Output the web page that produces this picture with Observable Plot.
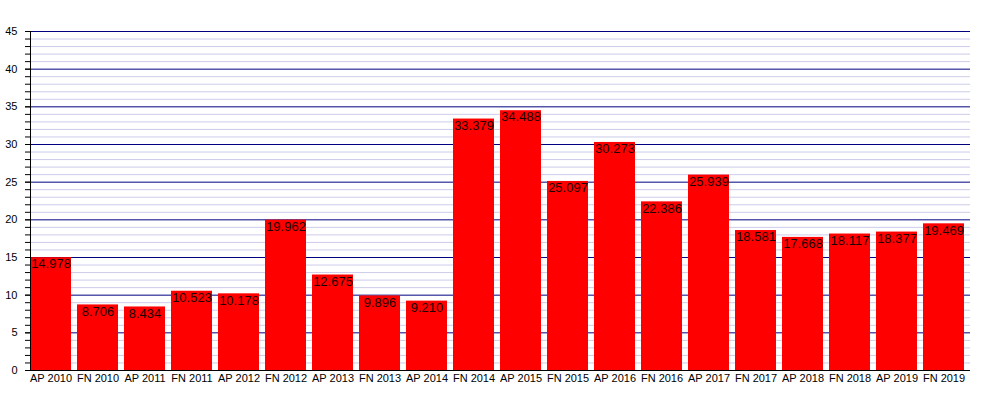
<!DOCTYPE html>
<html>
<head>
<meta charset="utf-8">
<script src="https://cdn.jsdelivr.net/npm/d3@7"></script>
<script src="https://cdn.jsdelivr.net/npm/@observablehq/plot@0.6"></script>
<style>
  body { margin: 0; background: #fff; }
</style>
</head>
<body>
<div id="chart"></div>
<script>
const categories = ["AP 2010","FN 2010","AP 2011","FN 2011","AP 2012","FN 2012","AP 2013","FN 2013","AP 2014","FN 2014","AP 2015","FN 2015","AP 2016","FN 2016","AP 2017","FN 2017","AP 2018","FN 2018","AP 2019","FN 2019"];
const values = [14.978, 8.706, 8.434, 10.523, 10.178, 19.962, 12.675, 9.896, 9.210, 33.379, 34.488, 25.097, 30.273, 22.386, 25.939, 18.581, 17.668, 18.117, 18.377, 19.469];
const majorTicks = [0, 5, 10, 15, 20, 25, 30, 35, 40, 45];
const minorTicks = d3.range(0, 46);

const data = categories.map((c, i) => ({cat: c, val: values[i]}));

const chart = Plot.plot({
  width: 1000,
  height: 400,
  marginLeft: 30,
  marginRight: 30,
  marginTop: 31,
  marginBottom: 30,
  style: {fontFamily: "'Liberation Sans', Arial, sans-serif", fontSize: "11px", background: "#fff", color: "#000"},
  x: {domain: categories, paddingInner: 6/47, paddingOuter: 3/47, align: 0, label: null},
  y: {domain: [0, 45], label: null},
  marks: [
    Plot.ruleY(minorTicks.filter(d => d % 5 !== 0), {stroke: "#ccccea", strokeWidth: 1}),
    Plot.ruleY(majorTicks.filter(d => d > 0), {stroke: "#000080", strokeWidth: 1}),
    Plot.barY(data, {x: "cat", y: "val", fill: "#ff0000"}),
    Plot.text(data, {x: "cat", y: "val", text: d => d.val.toFixed(3), lineAnchor: "top", dy: 1.5, fontSize: 13, fill: "#1a0000"}),
    Plot.axisY({ticks: minorTicks, tickSize: 5, tickFormat: () => "", label: null}),
    Plot.axisY({ticks: majorTicks, tickSize: 5, tickPadding: 8, label: null}),
    Plot.axisX({tickSize: 0, tickPadding: 4, label: null}),
    Plot.frame({anchor: "left", stroke: "#000"}),
    Plot.ruleY([0], {stroke: "#000"})
  ]
});
document.getElementById("chart").appendChild(chart);
</script>
</body>
</html>
